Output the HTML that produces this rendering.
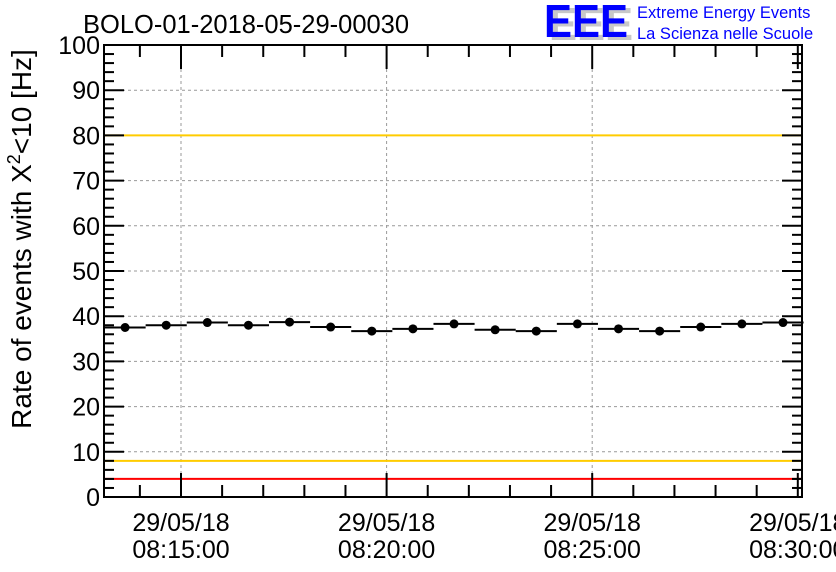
<!DOCTYPE html>
<html><head><meta charset="utf-8"><style>
body{margin:0;background:#fff}
svg{display:block;font-family:"Liberation Sans",sans-serif}
</style></head><body>
<svg id="chart" width="836" height="572" viewBox="0 0 836 572">
<g id="grid"></g>
<g id="lines"></g>
<g id="data"></g>
<g id="axes"></g>
<text x="83" y="33" font-size="25.5">BOLO-01-2018-05-29-00030</text>
<g>
<text x="549" y="40" font-size="46" font-weight="bold" fill="#c8c8c8" textLength="84" lengthAdjust="spacingAndGlyphs">EEE</text>
<text x="544" y="37" font-size="46" font-weight="bold" fill="#0000ff" textLength="84" lengthAdjust="spacingAndGlyphs">EEE</text>
<text x="637" y="18" font-size="16.5" fill="#0000ff">Extreme Energy Events</text>
<text x="637" y="39" font-size="16.5" fill="#0000ff">La Scienza nelle Scuole</text>
</g>
<text transform="translate(31,239) rotate(-90)" text-anchor="middle" font-size="28">Rate of events with X<tspan dy="-11" font-size="18">2</tspan><tspan dy="11">&lt;10 [Hz]</tspan></text>
</svg>
<script>
const minutes=[-1.36,-0.36,0.64,1.64,2.64,3.64,4.64,5.64,6.64,7.64,8.64,9.64,10.64,11.64,12.64,13.64,14.64];
const rates=[37.5,38.0,38.6,38.0,38.7,37.6,36.7,37.2,38.3,37.0,36.7,38.3,37.2,36.7,37.6,38.3,38.6];
const yTicks=[0,10,20,30,40,50,60,70,80,90,100];
const xTickMinutes=[0,5,10,15];
const xTickLabels=[["29/05/18","08:15:00"],["29/05/18","08:20:00"],["29/05/18","08:25:00"],["29/05/18","08:30:00"]];
const redLevels=[100,4];
const orangeLevels=[80,8];
const L=104,R=802,T=45,B=497;
const xs=m=>181+m*41.12;
const ys=v=>B-(v/100)*(B-T);
const NS="http://www.w3.org/2000/svg";
function mk(p,tag,a){const e=document.createElementNS(NS,tag);for(const k in a)e.setAttribute(k,a[k]);p.appendChild(e);return e;}
const grid=document.getElementById('grid'),lines=document.getElementById('lines'),data=document.getElementById('data'),axes=document.getElementById('axes');
yTicks.forEach(v=>{if(v>0&&v<100){const g=mk(grid,'line',{x1:L,x2:R,y1:ys(v),y2:ys(v),stroke:'#999','stroke-dasharray':'3,3'});

}});
xTickMinutes.forEach(m=>{if(xs(m)<R-6){const g=mk(grid,'line',{x1:xs(m),x2:xs(m),y1:T,y2:B,stroke:'#999','stroke-dasharray':'3,3'});

}});
orangeLevels.forEach(v=>{const l=mk(lines,'line',{x1:L,x2:R,y1:ys(v),y2:ys(v),stroke:'#ffcc00','stroke-width':2});

});
mk(axes,'rect',{x:L,y:T,width:R-L,height:B-T,fill:'none',stroke:'#000','stroke-width':2});
redLevels.forEach(v=>{const l=mk(lines,'line',{x1:L,x2:R,y1:ys(v),y2:ys(v),stroke:'#ff0000','stroke-width':2});

});
minutes.forEach((m,i)=>{
 const h=mk(data,'line',{x1:xs(m-0.5),x2:xs(m+0.5),y1:ys(rates[i]),y2:ys(rates[i]),stroke:'#000','stroke-width':2});
 
 
 const c=mk(data,'circle',{cx:xs(m),cy:ys(rates[i]),r:4.5,fill:'#000'});
 
 
});
for(let v=0;v<=100;v+=2){const major=v%10===0;const len=major?20:10;
 mk(axes,'line',{x1:L,x2:L+len,y1:ys(v),y2:ys(v),stroke:'#000','stroke-width':2});
 mk(axes,'line',{x1:R,x2:R-len,y1:ys(v),y2:ys(v),stroke:'#000','stroke-width':2});}
yTicks.forEach(v=>{const t=mk(axes,'text',{x:L-4,y:ys(v)+9,'text-anchor':'end','font-size':25});t.textContent=v;

});
for(let m=-1;m<=15;m++){const x=xs(m);if(x<L||x>R)continue;const major=m%5===0;const len=major?24:12;
 mk(axes,'line',{x1:x,x2:x,y1:B,y2:B-len,stroke:'#000','stroke-width':2});
 mk(axes,'line',{x1:x,x2:x,y1:T,y2:T+len,stroke:'#000','stroke-width':2});}
xTickMinutes.forEach((m,i)=>{xTickLabels[i].forEach((s,j)=>{const t=mk(axes,'text',{x:xs(m),y:531+j*27,'text-anchor':'middle','font-size':25});t.textContent=s;

});});
</script>
</body></html>
